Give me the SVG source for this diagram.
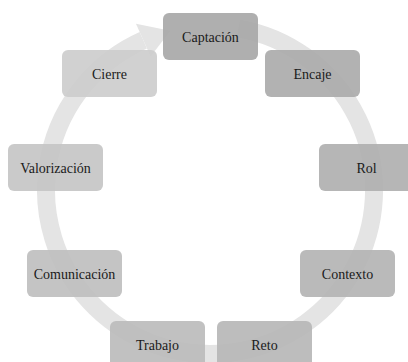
<svg xmlns="http://www.w3.org/2000/svg" width="408" height="362" viewBox="0 0 408 362">
<style>
.n rect{stroke:none;fill-opacity:0.9}
.n text{font-family:'Liberation Serif','DejaVu Serif',serif;font-size:14px;fill:#1a1a1a;text-anchor:middle}
.ring{fill:none;stroke:#e4e4e4;stroke-width:18}
.head{fill:#e4e4e4}
</style>
<rect width="408" height="362" fill="#ffffff"/>
<g id="connectors">
<path class="ring" d="M238.5,28.5 A164,164 0 1 1 143.3,40.2"/>
<polygon class="head" points="135.97,23.73 170.33,30.87 150.62,56.62"/>
</g>
<g id="node-captacion" class="n"><rect x="163" y="13" width="95" height="47" rx="6" fill="#a6a6a6"/><text x="210.5" y="41.5">Captación</text></g>
<g id="node-encaje" class="n"><rect x="265" y="50" width="95" height="47" rx="6" fill="#aaaaaa"/><text x="312.5" y="78.5">Encaje</text></g>
<g id="node-rol" class="n"><rect x="319" y="144" width="95" height="47" rx="6" fill="#aeaeae"/><text x="366.5" y="172.5">Rol</text></g>
<g id="node-contexto" class="n"><rect x="300" y="250" width="95" height="47" rx="6" fill="#b3b3b3"/><text x="347.5" y="278.5">Contexto</text></g>
<g id="node-reto" class="n"><rect x="217" y="321" width="95" height="47" rx="6" fill="#b6b6b6"/><text x="264.5" y="349.5">Reto</text></g>
<g id="node-trabajo" class="n"><rect x="110" y="321" width="95" height="47" rx="6" fill="#bababa"/><text x="157.5" y="349.5">Trabajo</text></g>
<g id="node-comunicacion" class="n"><rect x="27" y="250" width="95" height="47" rx="6" fill="#bebebe"/><text x="74.5" y="278.5">Comunicación</text></g>
<g id="node-valorizacion" class="n"><rect x="8" y="144" width="95" height="47" rx="6" fill="#c4c4c4"/><text x="55.5" y="172.5">Valorización</text></g>
<g id="node-cierre" class="n"><rect x="62" y="50" width="95" height="47" rx="6" fill="#cccccc"/><text x="109.5" y="78.5">Cierre</text></g>
</svg>
